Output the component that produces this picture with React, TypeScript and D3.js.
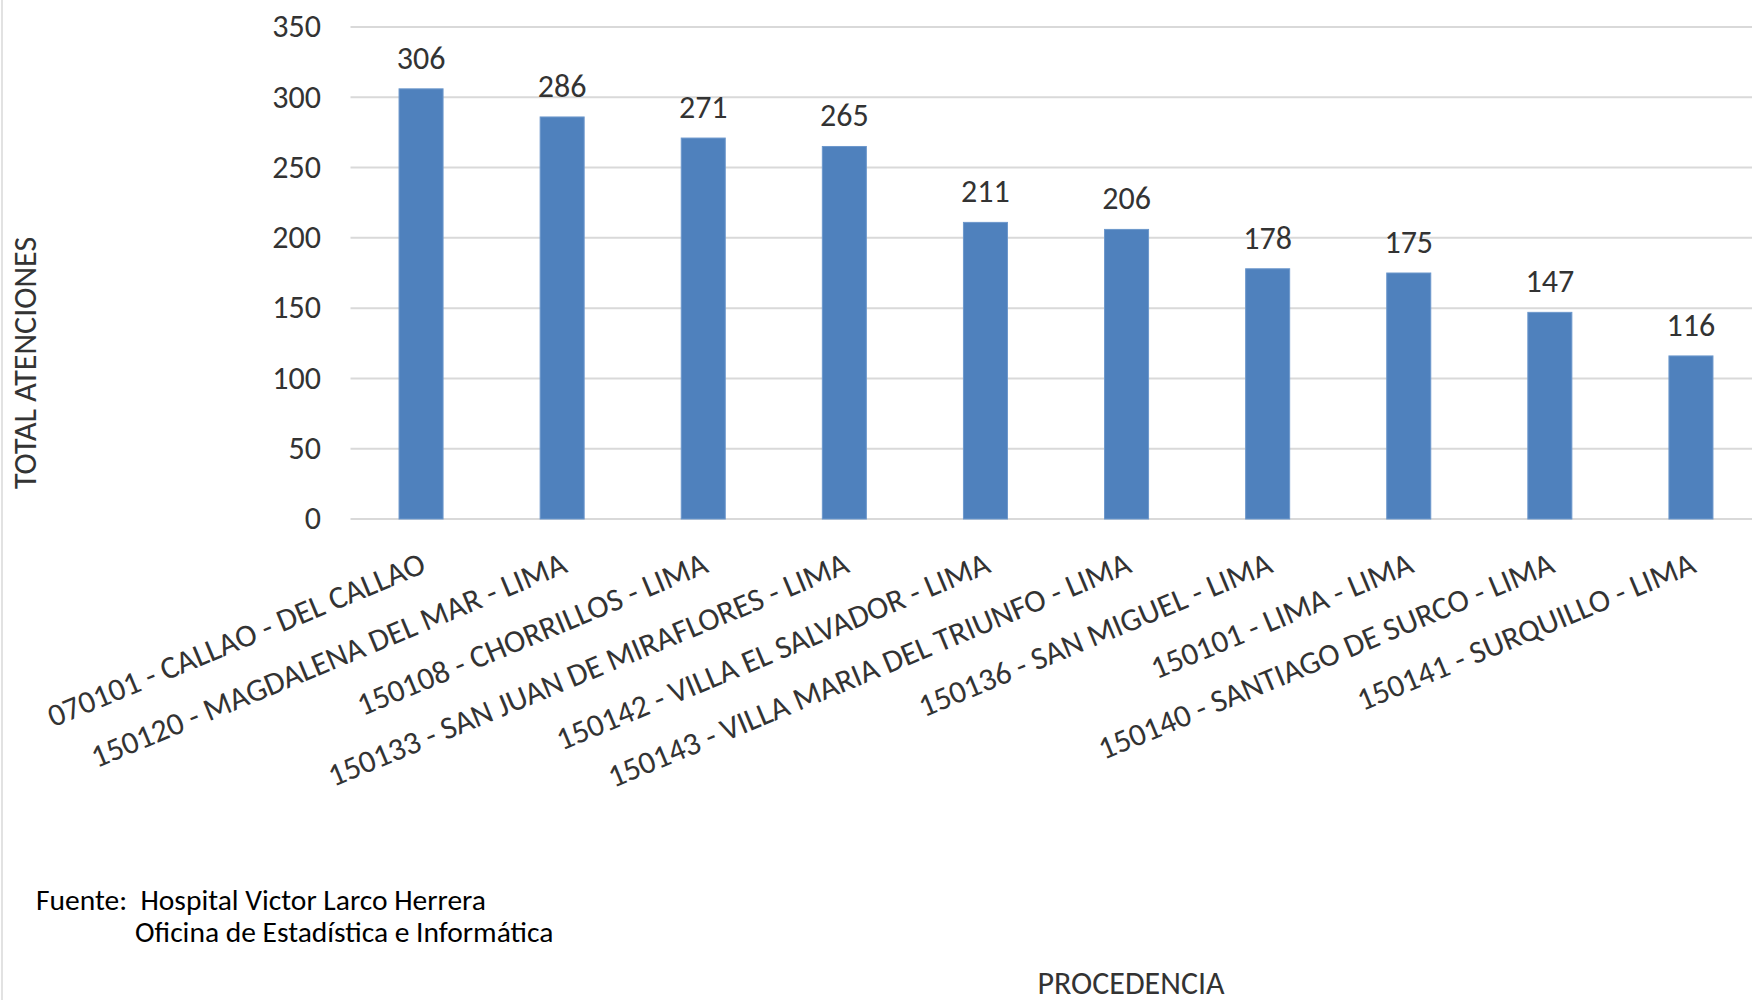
import React from "react";
import * as d3 from "d3";

const categories: string[] = [
  "070101 - CALLAO - DEL CALLAO",
  "150120 - MAGDALENA DEL MAR - LIMA",
  "150108 - CHORRILLOS - LIMA",
  "150133 - SAN JUAN DE MIRAFLORES - LIMA",
  "150142 - VILLA EL SALVADOR - LIMA",
  "150143 - VILLA MARIA DEL TRIUNFO - LIMA",
  "150136 - SAN MIGUEL - LIMA",
  "150101 - LIMA - LIMA",
  "150140 - SANTIAGO DE SURCO - LIMA",
  "150141 - SURQUILLO - LIMA",
];
const values: number[] = [306, 286, 271, 265, 211, 206, 178, 175, 147, 116];
const yTicks: number[] = [0, 50, 100, 150, 200, 250, 300, 350];
const yTitle = "TOTAL ATENCIONES";
const xTitle = "PROCEDENCIA";
const sourceLines: string[] = ["Fuente:  Hospital Victor Larco Herrera", "Oficina de Estadística e Informática"];

const W = 1752;
const H = 1000;
const FONT = "Carlito, Calibri, Lato, 'Open Sans', sans-serif";
const TEXT = "#333333";

export default function App() {
  const x = d3
    .scaleBand<string>()
    .domain(categories)
    .range([350.5, 1761.5])
    .paddingInner(0.688)
    .paddingOuter(0.344);
  const y = d3.scaleLinear().domain([0, 350]).range([519, 27]);

  return (
    <svg
      width={W}
      height={H}
      style={{ position: "absolute", left: 0, top: 0, background: "#fff" }}
      fontFamily={FONT}
    >
      <rect x={0} y={0} width={W} height={H} fill="#fff" />
      <line x1={2} x2={2} y1={0} y2={H} stroke="#d9d9d9" strokeWidth={1.5} />
      {yTicks.map((t) => (
        <line key={"g" + t} x1={350.5} x2={W} y1={y(t)} y2={y(t)} stroke="#d9d9d9" strokeWidth={2} />
      ))}
      {yTicks.map((t) => (
        <text key={"t" + t} x={321} y={y(t)} dy="0.32em" textAnchor="end" fontSize={32} fill={TEXT}>
          {t}
        </text>
      ))}
      {categories.map((c, i) => (
        <rect
          key={"b" + c}
          x={x(c)!}
          y={y(values[i])}
          width={x.bandwidth()}
          height={y(0) - y(values[i])}
          fill="#4f81bd"
          stroke="#6d98cc"
          strokeWidth={1}
        />
      ))}
      {categories.map((c, i) => (
        <text
          key={"v" + c}
          x={x(c)! + x.bandwidth() / 2}
          y={y(values[i]) - 20}
          textAnchor="middle"
          fontSize={32}
          fill={TEXT}
        >
          {values[i]}
        </text>
      ))}
      {categories.map((c) => (
        <text
          key={"c" + c}
          transform={`translate(${x(c)! + x.bandwidth() / 2 - 2},551) rotate(-22.6)`}
          textAnchor="end"
          dy="0.7em"
          fontSize={32}
          fill={TEXT}
        >
          {c}
        </text>
      ))}
      <text
        transform={`translate(36,363) rotate(-90)`}
        textAnchor="middle"
        fontSize={32}
        fill={TEXT}
      >
        {yTitle}
      </text>
      <text x={36} y={910} fontSize={29.5} fill="#000" style={{ whiteSpace: "pre" }}>
        {sourceLines[0]}
      </text>
      <text x={135} y={942} fontSize={29.5} fill="#000" style={{ whiteSpace: "pre" }}>
        {sourceLines[1]}
      </text>
      <text x={1131} y={994} textAnchor="middle" fontSize={32} fill={TEXT}>
        {xTitle}
      </text>
    </svg>
  );
}
